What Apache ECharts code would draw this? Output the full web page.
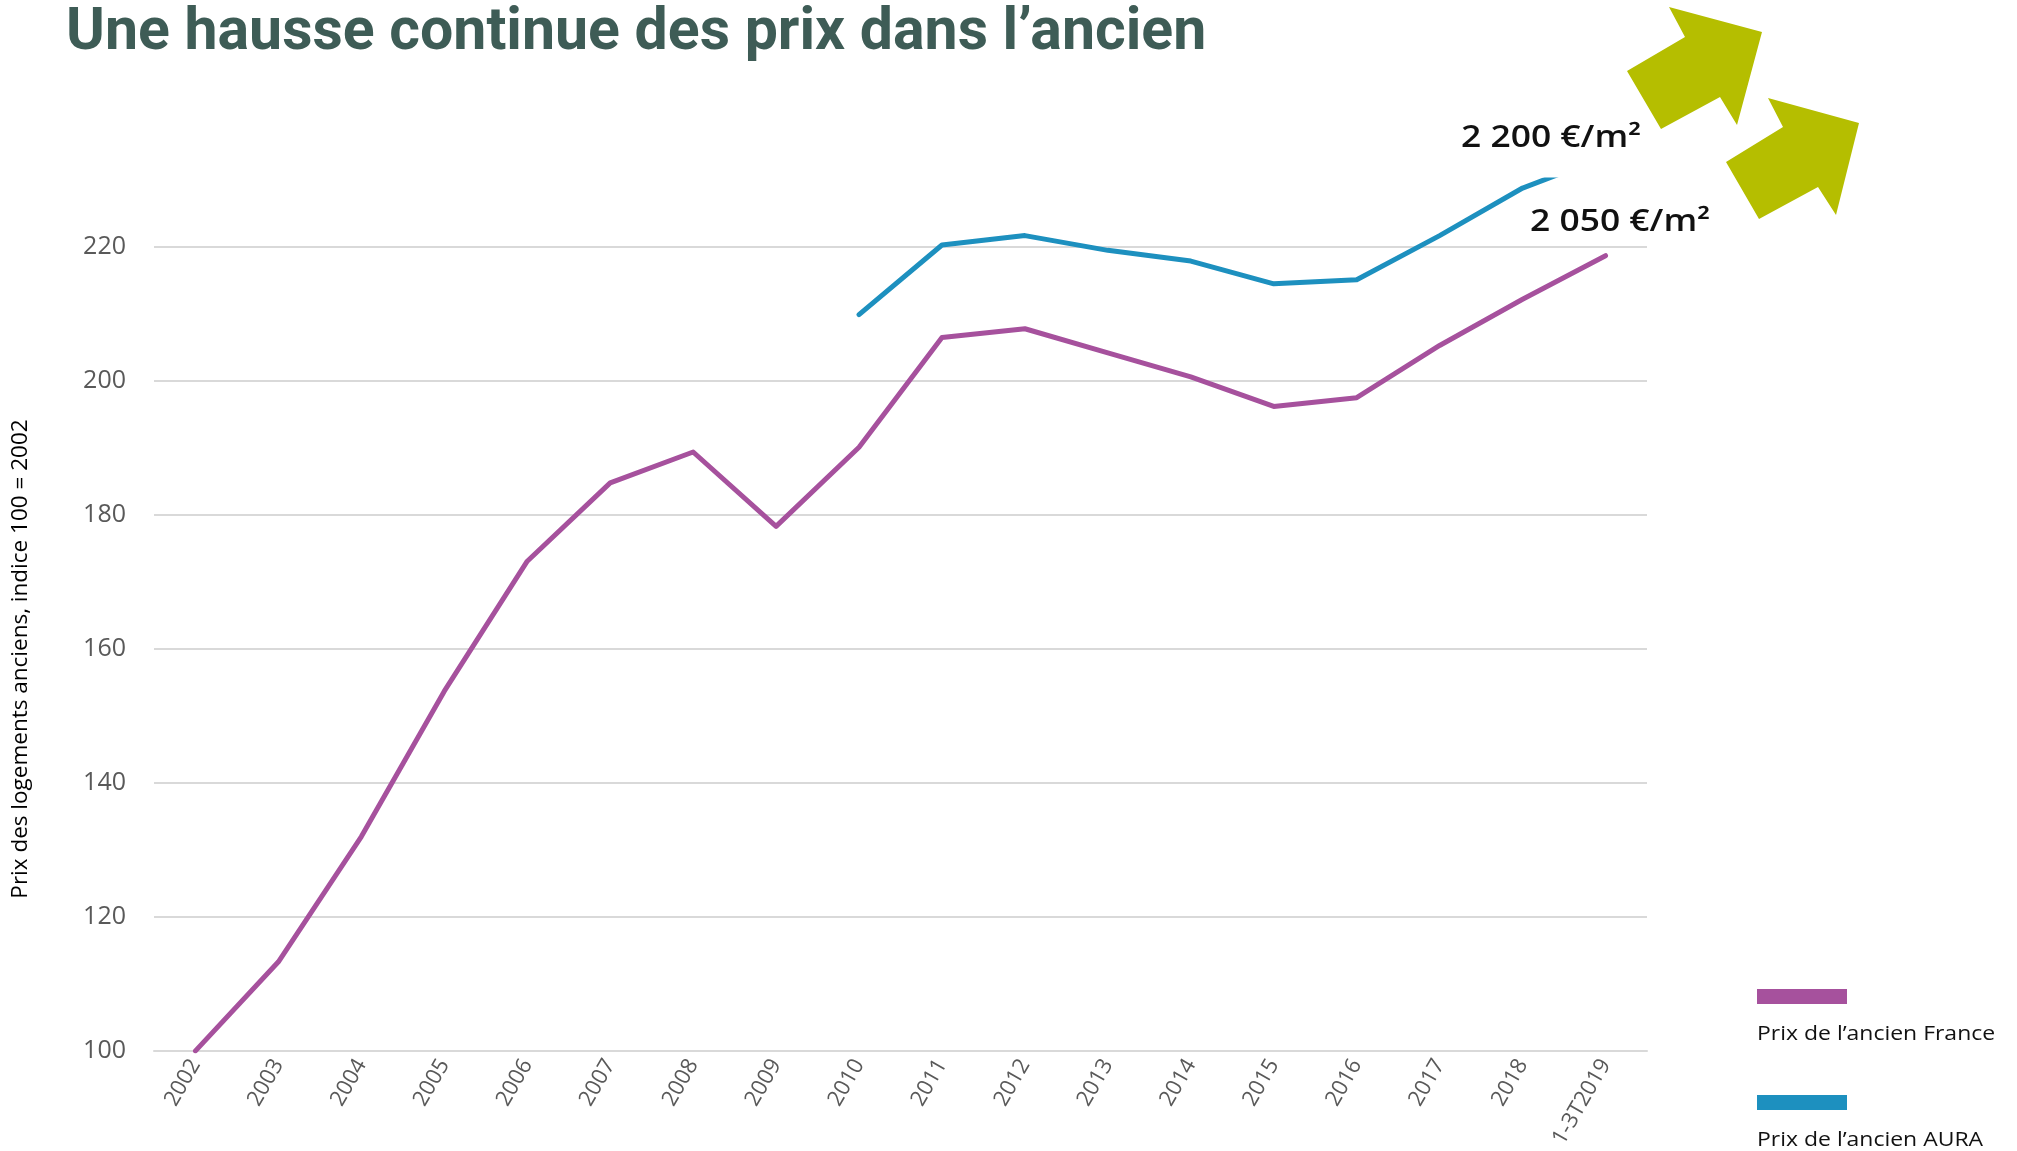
<!DOCTYPE html>
<html>
<head>
<meta charset="utf-8">
<script src="https://cdn.jsdelivr.net/npm/echarts@6/dist/echarts.min.js"></script>
<style>
  html, body { margin: 0; padding: 0; background: #fff; }
  #chart { width: 2017px; height: 1151px; }
</style>
</head>
<body>
<div id="chart"></div>
<script>
// années (dernier point = 3 premiers trimestres 2019)
var years = ['2002', '2003', '2004', '2005', '2006', '2007', '2008', '2009', '2010',
    '2011', '2012', '2013', '2014', '2015', '2016', '2017', '2018', '1-3T2019'];

// indice 100 = 2002
var prixFrance = [100, 113.3, 132.0, 153.7, 173.1, 184.8, 189.4, 178.3, 190.1,
    206.5, 207.8, 204.2, 200.6, 196.2, 197.5, 205.3, 212.2, 218.7];
var prixAura = [null, null, null, null, null, null, null, null, 209.9,
    220.3, 221.7, 219.5, 217.9, 214.5, 215.1, 221.7, 228.8, 233.5];

var serieNames = ['Prix de l’ancien France', 'Prix de l’ancien AURA'];
var prixM2 = ['2 200 €/m²', '2 050 €/m²'];

var violet = '#a6519d';
var bleu = '#1d90bf';
var vertFleche = '#b5be00';

var chart = echarts.init(document.getElementById('chart'));

// flèches vertes (décor)
function fleche(pts) {
    return {
        type: 'polygon',
        shape: { points: pts },
        style: { fill: vertFleche }
    };
}

// texte avec un léger étirement horizontal (police d'origine plus large)
function texte(x, y, txt, size, weight, sx) {
    return {
        type: 'text',
        x: x,
        y: y,
        scaleX: sx,
        style: {
            text: txt,
            fontFamily: 'Open Sans',
            fontWeight: weight,
            fontSize: size,
            fill: '#111',
            verticalAlign: 'middle'
        }
    };
}

var option = {
    backgroundColor: '#fff',
    animation: false,
    title: {
        text: 'Une hausse continue des prix dans l’ancien',
        left: 66,
        top: 5,
        padding: 0,
        textStyle: {
            fontFamily: 'Roboto',
            fontWeight: 700,
            fontSize: 59,
            color: '#3e5c56'
        }
    },
    grid: {
        left: 154,
        right: 370,
        top: 180,
        bottom: 99,
        containLabel: false
    },
    xAxis: {
        type: 'category',
        data: years,
        boundaryGap: true,
        axisLine: { lineStyle: { color: '#d9d9d9', width: 2 } },
        axisTick: { show: false },
        axisLabel: {
            interval: 0,
            rotate: 60,
            margin: 10,
            fontFamily: 'Open Sans',
            fontSize: 22,
            color: '#595959'
        },
        splitLine: { show: false }
    },
    yAxis: {
        type: 'value',
        min: 100,
        max: 230,
        interval: 20,
        axisLine: { show: false },
        axisTick: { show: false },
        axisLabel: {
            showMaxLabel: false,
            margin: 28,
            fontFamily: 'Open Sans',
            fontSize: 25,
            color: '#595959'
        },
        splitLine: {
            showMaxLine: false,
            lineStyle: { color: '#d9d9d9', width: 2 }
        }
    },
    series: [
        {
            name: serieNames[0],
            type: 'line',
            data: prixFrance,
            showSymbol: false,
            lineStyle: { color: violet, width: 5, cap: 'round', join: 'round' },
            itemStyle: { color: violet }
        },
        {
            name: serieNames[1],
            type: 'line',
            data: prixAura,
            showSymbol: false,
            connectNulls: false,
            lineStyle: { color: bleu, width: 5, cap: 'round', join: 'round' },
            itemStyle: { color: bleu }
        }
    ],
    graphic: [
        // titre de l'axe vertical
        {
            type: 'text',
            x: 21,
            y: 659,
            rotation: Math.PI / 2,
            style: {
                text: 'Prix des logements anciens, indice 100 = 2002',
                fontFamily: 'Open Sans',
                fontSize: 22.5,
                fill: '#000',
                align: 'center',
                verticalAlign: 'middle'
            }
        },
        // prix au m²
        texte(1461, 138, prixM2[0], 30, 600, 1.18),
        texte(1530, 222, prixM2[1], 30, 600, 1.18),
        fleche([[1669, 7], [1762, 32], [1737, 125], [1720, 97], [1661, 129], [1627, 71], [1685, 37]]),
        fleche([[1768, 98], [1859, 123], [1836, 215], [1818, 187], [1759, 219], [1726, 162], [1783, 127]]),
        // légende
        {
            type: 'rect',
            shape: { x: 1757, y: 989, width: 90, height: 15 },
            style: { fill: violet }
        },
        texte(1757, 1034, serieNames[0], 20.5, 400, 1.12),
        {
            type: 'rect',
            shape: { x: 1757, y: 1095, width: 90, height: 15 },
            style: { fill: bleu }
        },
        texte(1757, 1140, serieNames[1], 20.5, 400, 1.12)
    ]
};

chart.setOption(option);
</script>
</body>
</html>
